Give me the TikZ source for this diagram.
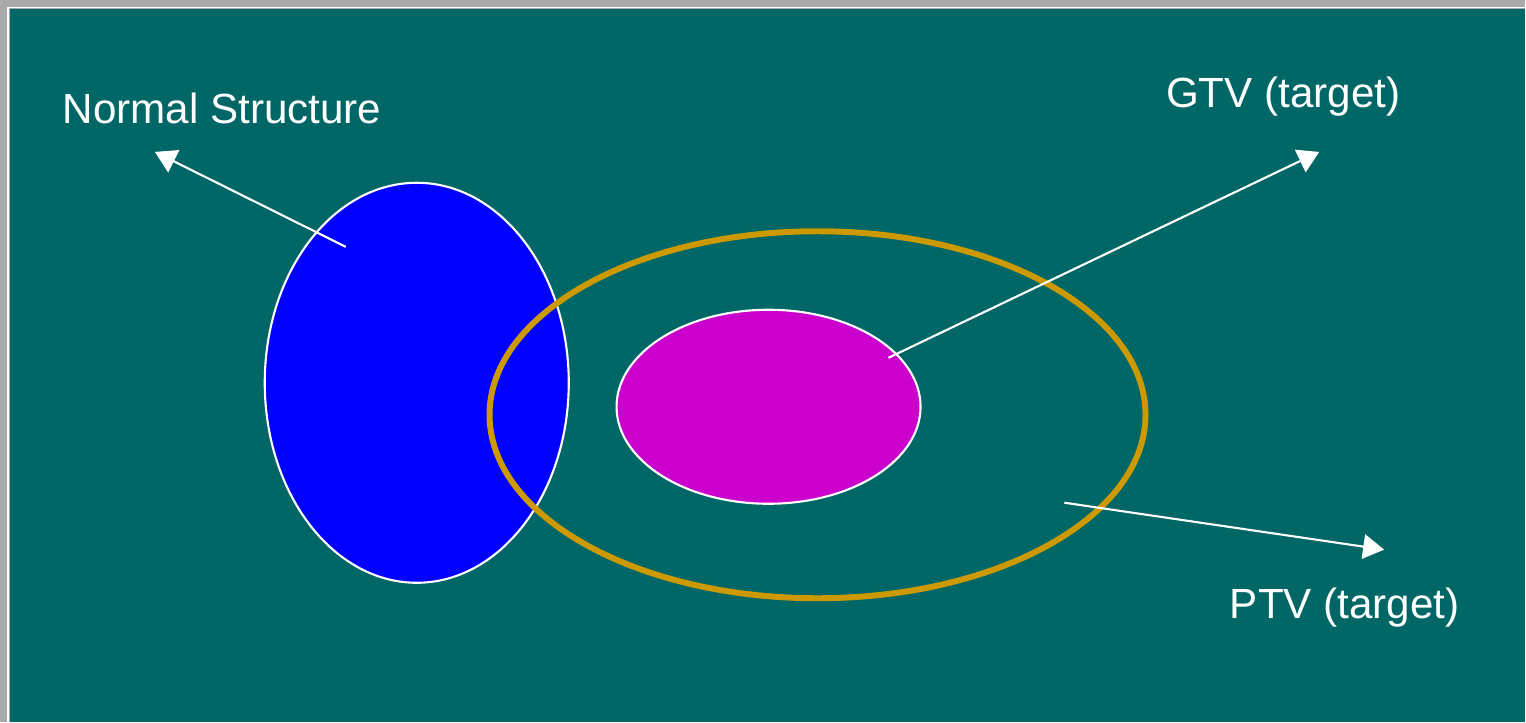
\documentclass[tikz,border=0pt]{standalone}
\usepackage{fontspec}
\setmainfont{Liberation Sans}
\usepackage{xcolor}
\usetikzlibrary{shapes.geometric, arrows.meta, positioning}

\definecolor{slideteal}{HTML}{006666}
\definecolor{slidegray}{HTML}{A9ABAA}
\definecolor{organblue}{HTML}{0000FF}
\definecolor{gtvpink}{HTML}{CC00CC}
\definecolor{ptvgold}{HTML}{CC9900}

\begin{document}
\begin{tikzpicture}[
    x=0.01cm, y=-0.01cm,
    organ/.style={ellipse, draw=white, line width=0.6pt, inner sep=0pt},
    margin/.style={ellipse, draw=ptvgold, line width=1.7pt, inner sep=0pt},
    lbl/.style={text=white, font=\fontsize{12pt}{14pt}\selectfont, anchor=west, inner sep=0pt},
    line/.style={-{Triangle[width=7pt, length=6pt]}, white, line width=0.6pt}
]
    % Background
    \fill[slidegray] (0,0) rectangle (1526,722);
    \draw[white, line width=0.5pt] (8,722) -- (8,7.5) -- (1526,7.5);
    \fill[slideteal] (10,9) rectangle (1526,722);
    \useasboundingbox (0,0) rectangle (1526,722);

    % Volumes
    \node[organ, fill=organblue, minimum width=3.04cm, minimum height=4.0cm] (NS) at (417,383) {};
    \node[organ, fill=gtvpink, minimum width=3.04cm, minimum height=1.94cm] (GTV) at (769,407) {};
    \node[margin, minimum width=6.56cm, minimum height=3.67cm] (PTV) at (818,415) {};

    % Labels
    \node[lbl] (NSlbl) at (62,108) {Normal Structure};
    \node[lbl] (GTVlbl) at (1166,97) {GTV (target)};
    \node[lbl] (PTVlbl) at (1230,608) {PTV (target)};

    % Arrow ends
    \coordinate (NSin) at (346,247);
    \coordinate (NStip) at (155,152);
    \coordinate (GTVin) at (889,358);
    \coordinate (GTVtip) at (1320,152);
    \coordinate (PTVin) at (1065,503);
    \coordinate (PTVtip) at (1385,550);

    % Arrows
    \draw[line] (NSin) -- (NStip);
    \draw[line] (GTVin) -- (GTVtip);
    \draw[line] (PTVin) -- (PTVtip);
\end{tikzpicture}
\end{document}
